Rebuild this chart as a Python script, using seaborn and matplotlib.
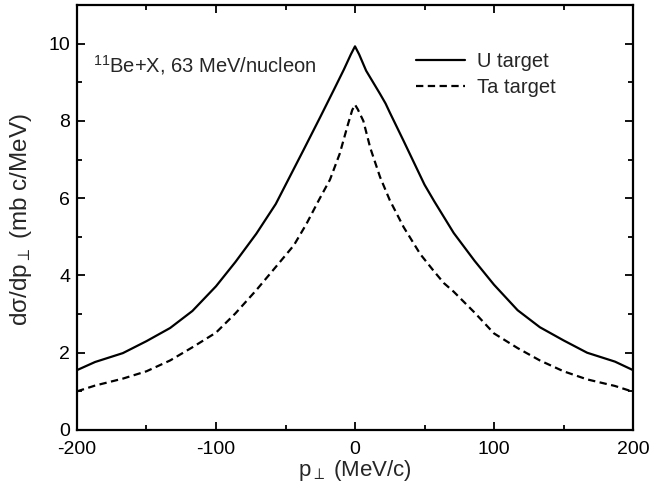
import matplotlib
matplotlib.use("Agg")
import matplotlib.pyplot as plt
import seaborn as sns
import pandas as pd
from matplotlib.ticker import MultipleLocator

p_u = [-200, -187, -167, -150, -133, -117, -100, -86, -71, -57, -47, -37, -25, -15, -8, -3, 0,
       3, 8, 15, 18, 22, 25, 35, 50, 57, 71, 86, 100, 117, 133, 150, 167, 187, 200]
u_vals = [1.55, 1.76, 1.99, 2.30, 2.64, 3.08, 3.72, 4.35, 5.08, 5.85, 6.55, 7.25, 8.10, 8.82, 9.33, 9.72, 9.93,
          9.72, 9.30, 8.88, 8.70, 8.45, 8.22, 7.48, 6.35, 5.92, 5.10, 4.38, 3.76, 3.10, 2.66, 2.32, 2.00, 1.77, 1.55]

p_ta = [-200, -187, -167, -150, -133, -117, -100, -86, -71, -57, -44, -35, -26, -18, -11, -5, -2, 0,
        2, 6, 11, 18, 25, 35, 47, 57, 64, 71, 86, 100, 117, 133, 150, 167, 187, 200]
ta_vals = [1.00, 1.15, 1.33, 1.52, 1.80, 2.14, 2.52, 3.02, 3.62, 4.22, 4.78, 5.33, 5.95, 6.48, 7.15, 7.92, 8.28, 8.42,
           8.30, 8.00, 7.30, 6.55, 5.95, 5.25, 4.55, 4.10, 3.80, 3.58, 3.04, 2.50, 2.12, 1.80, 1.52, 1.31, 1.14, 0.99]

labels = ["U target", "Ta target"]

sns.set_theme(style="ticks")
plt.rcParams["font.family"] = ["Liberation Sans", "DejaVu Sans"]
plt.rcParams["mathtext.fontset"] = "custom"
plt.rcParams["mathtext.rm"] = "Liberation Sans"
plt.rcParams["mathtext.it"] = "Liberation Sans"
plt.rcParams["mathtext.sf"] = "Liberation Sans"
plt.rcParams["mathtext.fallback"] = "cm"
plt.rcParams["axes.unicode_minus"] = False

W, H = 651, 493
fig = plt.figure(figsize=(W / 100, H / 100), dpi=100)
ax = fig.add_axes([77 / W, 1 - 430 / H, (633 - 77) / W, (430 - 5) / H])

df_u = pd.DataFrame({"p": p_u, "y": u_vals})
df_ta = pd.DataFrame({"p": p_ta, "y": ta_vals})
sns.lineplot(data=df_u, x="p", y="y", ax=ax, color="black", linewidth=1.6, label=labels[0])
sns.lineplot(data=df_ta, x="p", y="y", ax=ax, color="black", linewidth=1.6,
             linestyle=(0, (3.3, 2.0)), label=labels[1])

ax.set_xlim(-200, 200)
ax.set_ylim(0, 11)
ax.xaxis.set_major_locator(MultipleLocator(100))
ax.xaxis.set_minor_locator(MultipleLocator(50))
ax.yaxis.set_major_locator(MultipleLocator(2))
ax.yaxis.set_minor_locator(MultipleLocator(1))
ax.tick_params(which="both", direction="in", top=True, right=True, width=1.3,
               labelsize=14, colors="black")
ax.tick_params(which="major", length=6, pad=5)
ax.tick_params(axis="x", which="major", pad=8)
ax.tick_params(which="minor", length=3.5)
for s in ax.spines.values():
    s.set_linewidth(1.6)
    s.set_color("black")

ax.set_xlabel(r"p$_{\perp}$ (MeV/c)", fontsize=16)
ax.set_ylabel(r"d$\sigma$/dp$_{\perp}$ (mb c/MeV)", fontsize=17.5)
ax.xaxis.set_label_coords(0.5, -(458 - 430) / 425)
ax.yaxis.set_label_coords(-(77 - 34) / 556, (430 - 220) / 425)

ax.text(93 / W, 1 - 65 / H, r"$^{11}$Be+X, 63 MeV/nucleon", transform=fig.transFigure,
        fontsize=14.5, va="center", ha="left")

leg = ax.legend(loc="upper left", bbox_to_anchor=(406 / W, 1 - 42 / H),
                bbox_transform=fig.transFigure, frameon=False, fontsize=14.5, borderpad=0,
                handlelength=2.45, handletextpad=0.6, labelspacing=0.33)

fig.savefig("out.png", dpi=100)
